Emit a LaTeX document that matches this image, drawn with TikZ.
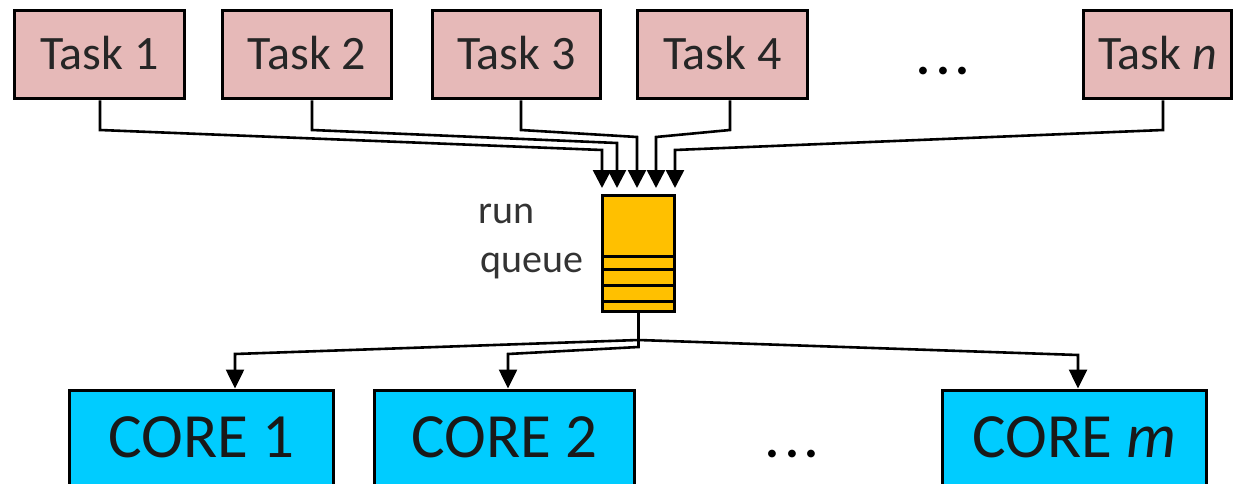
\documentclass[tikz,border=0pt]{standalone}
\usepackage{fontspec}
\setmainfont{Carlito}
\usetikzlibrary{arrows.meta}

\definecolor{taskfill}{HTML}{E6B9B8}
\definecolor{corefill}{HTML}{00CCFF}
\definecolor{queuefill}{HTML}{FFC000}

\begin{document}
\begin{tikzpicture}[x=1pt,y=-1pt,
  taskbox/.style={draw=black, line width=3pt, fill=taskfill, inner sep=0pt,
    text height=58.5pt, text depth=29.5pt, anchor=north,
    font=\fontsize{48}{58}\selectfont, text=black!85},
  corebox/.style={draw=black, line width=3pt, fill=corefill, inner sep=0pt,
    text height=67.5pt, text depth=42pt, anchor=north,
    font=\fontsize{63}{75}\selectfont, text=black!90},
  queuebox/.style={draw=black, line width=3pt, fill=queuefill, inner sep=0pt,
    minimum width=72pt, minimum height=116pt, anchor=north},
  slot/.style={line width=3pt},
  link/.style={line width=2.6pt},
  feed/.style={link, -{Triangle[width=18pt,length=18pt]}},
  dispatch/.style={link, -{Triangle[width=18pt,length=19pt]}},
  label/.style={inner sep=0pt, anchor=base west, font=\fontsize{40}{48}\selectfont, text=black!80},
  ellipsis/.style={inner sep=0pt, anchor=base, font=\fontsize{52}{60}\bfseries\selectfont}
]
\useasboundingbox (0,0) rectangle (1241,484);

% tasks
\node[taskbox, minimum width=170pt] (t1) at (99.5,9.5)  {Task 1};
\node[taskbox, minimum width=169pt] (t2) at (307,9.5)   {Task 2};
\node[taskbox, minimum width=168pt] (t3) at (516.5,9.5) {Task 3};
\node[taskbox, minimum width=170pt] (t4) at (722.5,9.5) {Task 4};
\node[taskbox, minimum width=148pt] (tn) at (1157.5,9.5) {Task \textit{n}};
\node[ellipsis] (tdots) at (943,75) {.\kern6pt.\kern6pt.};

% run queue with its slots
\node[queuebox] (q) at (638.5,193.5) {};
\foreach \h in {56.5,43.5,27.5,11.5}
  \draw[slot] ([yshift=\h pt]q.south west) -- ([yshift=\h pt]q.south east);
\node[label] (rq1) at (478,223) {run};
\node[label] (rq2) at (480,272) {queue};

% cores
\begin{scope}
\clip (0,0) rectangle (1241,484);
\node[corebox, minimum width=264pt] (c1) at (201.5,388.5)  {CORE 1};
\node[corebox, minimum width=260pt] (c2) at (504.5,388.5)  {CORE 2};
\node[corebox, minimum width=264pt] (cm) at (1074.5,388.5) {CORE \textit{m}};
\end{scope}
\node[ellipsis] (cdots) at (792,457) {.\kern6pt.\kern6pt.};

% tasks feeding the queue
\draw[feed] ([xshift=0.5pt]t1.south) -- ++(0,29.5)
  -- ([xshift=-36.5pt,yshift=43.5pt]q.north) -- ([xshift=-36.5pt,yshift=5.5pt]q.north);
\draw[feed] ([xshift=5pt]t2.south) -- ++(0,29.5)
  -- ([xshift=-21.5pt,yshift=50.5pt]q.north) -- ([xshift=-21.5pt,yshift=5.5pt]q.north);
\draw[feed] ([xshift=4.5pt]t3.south) -- ++(0,29.5)
  -- ([xshift=-1.5pt,yshift=56.5pt]q.north) -- ([xshift=-1.5pt,yshift=5.5pt]q.north);
\draw[feed] ([xshift=7.5pt]t4.south) -- ++(0,29.5)
  -- ([xshift=17.5pt,yshift=56.5pt]q.north) -- ([xshift=17.5pt,yshift=5.5pt]q.north);
\draw[feed] ([xshift=5.5pt]tn.south) -- ++(0,29.5)
  -- ([xshift=36.5pt,yshift=43.5pt]q.north) -- ([xshift=36.5pt,yshift=5.5pt]q.north);

% queue dispatching to the cores
\draw[dispatch] (q.south) -- ++(0,27.5)
  -- ([xshift=33.5pt,yshift=34.5pt]c1.north) -- ([xshift=33.5pt]c1.north);
\draw[dispatch] (q.south) -- ++(0,34.5)
  -- ([xshift=3.5pt,yshift=34.5pt]c2.north) -- ([xshift=3.5pt]c2.north);
\draw[dispatch] (q.south) -- ++(0,27.5)
  -- ([xshift=3.5pt,yshift=33.5pt]cm.north) -- ([xshift=3.5pt]cm.north);
\end{tikzpicture}
\end{document}
